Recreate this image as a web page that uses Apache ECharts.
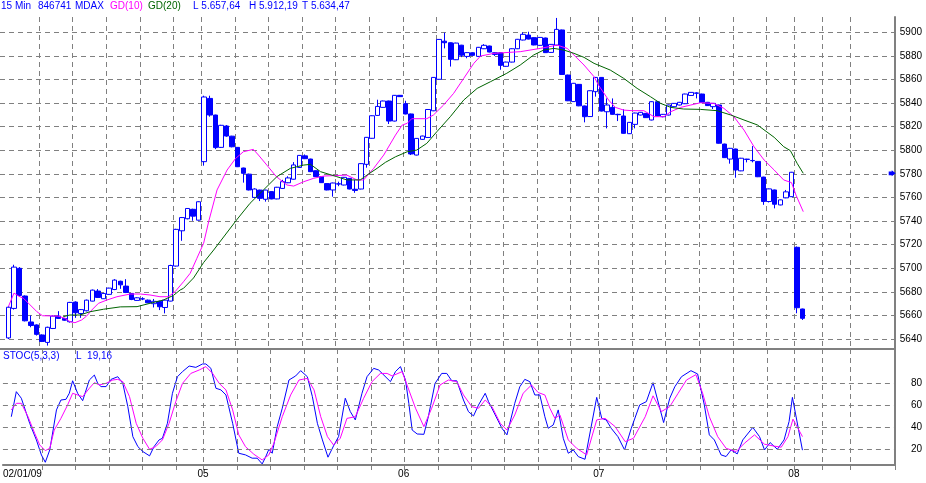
<!DOCTYPE html>
<html><head><meta charset="utf-8">
<script src="https://cdn.jsdelivr.net/npm/echarts@6/dist/echarts.min.js"></script>
<style>html,body{margin:0;padding:0;background:#fff}#c{width:926px;height:483px}</style>
</head><body><div id="c"></div>
<script>
// ---- candle data (15 min bars, bar 1..143) ----
const openV = [
5641,5666,5700,5676.5,5654.5,5652,5643.5,5637.2,5649,5659.5,
5657.5,5654.7,5671.4,5661.7,5664,5672.2,5680.7,5674.2,5677.9,5682,
5689,5684.9,5678.7,5672.8,5674,5673,5670,5672,5666.8,5672.2,
5701.9,5731.8,5742,5750,5740.8,5790.4,5844,5829.9,5802.5,5820.6,
5812,5802.5,5785,5779.8,5760.1,5766.3,5758.5,5765,5758.8,5767.7,
5772.5,5775.5,5785.5,5795.3,5792.6,5782.7,5777.7,5771.8,5766.4,5771.6,
5770.6,5776.2,5767,5767.2,5788.1,5810.2,5829.6,5836.4,5841.8,5824.8,
5846.6,5839.5,5830.8,5796,5809.3,5810.9,5833.5,5860.2,5892.5,5891.2,
5876.8,5889.1,5879.6,5882.7,5879.6,5886.1,5888.4,5882.7,5882.7,5871.2,
5874.8,5886.1,5893.5,5897.7,5895.5,5889,5895.2,5883,5889.2,5902,
5863.8,5841.3,5855.9,5837.6,5828.6,5849.7,5861.8,5832.7,5836.4,5830.5,
5829.1,5814.1,5822,5829.9,5831.3,5825.7,5841.2,5828.5,5829.9,5837,
5838.4,5839.5,5846.5,5848.6,5847.7,5840.7,5837,5838.4,5805.3,5792.6,
5801.1,5782.6,5792.5,5791.4,5790.6,5777.3,5756.6,5766.4,5753.7,5759.7,
5760.7,5717.8,5665.5];
const closeV = [
5667,5701,5677,5655.5,5651.5,5644,5638,5650,5659.5,5657.5,
5656,5671.1,5662.3,5665,5673,5681.5,5675.3,5678.7,5683.2,5690,
5686,5679.5,5673.6,5675,5674.2,5670.8,5672,5667.4,5673,5702.4,
5733,5743,5750.7,5744.2,5756.4,5845.2,5829.9,5802.3,5821.2,5812.1,
5803,5786.1,5780.5,5766.4,5767.2,5759.3,5766.3,5758.8,5768.7,5773.4,
5776.6,5787.6,5795.7,5792.9,5781.9,5777.7,5772.6,5766.4,5772.3,5771.4,
5777.1,5767.2,5766,5788.7,5811,5829.3,5837.2,5841.8,5824.8,5846.6,
5845.5,5830.8,5796.9,5810.1,5812.1,5834.6,5861.8,5894,5891.2,5877.1,
5890.9,5880.6,5882.8,5880.5,5887.3,5889,5883.3,5881.3,5872,5874.8,
5886.1,5894.1,5898.3,5894.3,5889.3,5895.7,5882.8,5889.8,5902.5,5864.3,
5842,5856.8,5837.7,5828.5,5850.5,5861.8,5833.3,5838.4,5830.5,5830.2,
5814.4,5823.7,5831.6,5832.2,5827.7,5841.2,5829.1,5830.5,5838.4,5839.8,
5840.7,5847.7,5849.1,5848.4,5840.7,5837.9,5839.8,5806,5793.8,5801.7,
5783.3,5793.3,5792.3,5791.2,5777.6,5756.6,5767.3,5754.3,5758,5764.8,
5781.4,5666.6,5657.6];
const lowV = [
5640,5665,5676,5655,5650,5643,5637.5,5634.5,5648.5,5657,
5655.5,5654,5658,5658,5663.5,5672,5675,5674,5677.5,5681.5,
5682.6,5679,5673,5672.5,5673,5670.5,5666.8,5664.6,5661.8,5672,
5701.5,5723.3,5741.5,5740.3,5740.5,5787,5828.5,5801,5802,5811.5,
5802.5,5785.8,5772.6,5766,5759.8,5757,5756.5,5758.5,5758.5,5767.4,
5772.2,5775.2,5785.2,5792.6,5781.6,5777.4,5772.3,5766.1,5760.7,5769.6,
5770.3,5766.9,5764,5766.9,5785.3,5809.9,5829.3,5836.1,5822.3,5824.5,
5845.2,5830.5,5796,5795.7,5809,5810.6,5833.2,5859.9,5886.4,5871,
5876.5,5879,5878,5880.2,5879.3,5885.8,5883,5880,5868.3,5870.9,
5874.5,5885.8,5893.2,5894,5889,5888.7,5882.5,5882.7,5888.9,5864,
5841.7,5841,5837.4,5823.7,5828.3,5845.5,5833,5818.6,5830.2,5824.8,
5814.1,5813.8,5818.6,5829.6,5827.4,5825.4,5828.8,5828,5829.6,5836.7,
5838.1,5839.2,5846.2,5844,5840.4,5837.6,5835,5805.7,5793.5,5788.7,
5776.8,5782.3,5789.8,5789.8,5777.3,5753.8,5755.8,5750.8,5753.4,5759.4,
5760.4,5661.9,5656.2];
const highV = [
5668,5703,5701,5677,5660,5652.5,5644,5650.5,5660,5663.7,
5658,5671.5,5672,5665.5,5673.5,5682,5682.4,5679,5683.5,5690.8,
5689.5,5690.8,5679,5675.5,5675.5,5673.5,5674,5672.5,5673.5,5703,
5733.5,5743.5,5751,5750.5,5756.8,5846.3,5846.3,5830.2,5821.6,5821.4,
5812.3,5802.8,5785.3,5780.2,5767.8,5766.6,5766.6,5765.3,5769,5775,
5778,5790,5796,5796.5,5792.9,5783,5778,5772.1,5772.6,5773.4,
5777.4,5776.5,5775,5789,5811.3,5829.6,5842.9,5842.1,5842.1,5846.9,
5846.9,5842,5831.1,5810.4,5812.4,5834.9,5862.1,5894.3,5899.7,5891.5,
5891.2,5889.4,5883.1,5883,5887.6,5890,5888.7,5883,5883,5875.1,
5886.4,5894.4,5900,5900.5,5895.8,5896,5895.5,5890.1,5912.2,5902.3,
5864.1,5857.1,5856.2,5837.9,5850.8,5862.1,5862.1,5844,5844,5831,
5834.8,5824,5831.9,5832.5,5831.6,5841.5,5841.5,5830.8,5838.7,5840.1,
5841,5848,5849.4,5849.2,5848,5841,5840.1,5838.7,5805.6,5802,
5801.4,5793.6,5792.8,5803.6,5790.9,5777.6,5767.6,5766.7,5758.3,5766.4,
5781.7,5718.5,5665.8];

// ---- moving averages [bar position, value] ----
const gd10 = [[1,5667.5],[2,5679],[2.8,5676.5],[3.7,5674.6],[4.9,5668.9],[6.1,5663.2],[7.1,5659.8],[9.9,5659.5],[11.1,5657.6],[12,5654.8],[12.9,5653.9],[14.1,5656.2],[15,5659.6],[15.9,5664.6],[17.1,5670.3],[18.6,5673.1],[20.4,5675.9],[22.8,5678.2],[24.6,5678.2],[26.3,5677.4],[28.1,5675.9],[29.6,5675.9],[30.8,5680.2],[32.3,5688.6],[33.5,5695.8],[34.7,5708.5],[35.9,5721.2],[36.8,5739.5],[38.3,5766.4],[40.1,5783.3],[41.6,5793],[43,5798.8],[44.8,5800.8],[45.7,5796],[47.2,5787.5],[48.9,5777.7],[50.8,5770.6],[52,5769.7],[53.8,5773.4],[55.6,5776.3],[57.4,5778.2],[61.5,5779],[63.3,5774.9],[64.5,5774.9],[66.3,5784.7],[68.1,5796],[70.2,5812.9],[71.4,5821.4],[72.3,5822.9],[73.1,5826.8],[75.8,5826.8],[77,5830],[78.8,5838.4],[80.6,5848.3],[82.4,5861],[84.2,5873.7],[85.4,5879.9],[87.8,5882.2],[92.5,5883.6],[96.1,5886.4],[99.1,5889.2],[100.9,5886.4],[102.1,5880.8],[103.9,5872.3],[105.7,5862.4],[106.5,5855.2],[108.3,5842.6],[109.5,5836.4],[111,5834.1],[112.5,5833.6],[114.6,5833.6],[116.4,5828.5],[118.2,5828.5],[119.4,5832.7],[121.2,5836.4],[123,5838.4],[124.7,5840.3],[127.1,5839.8],[128.9,5835.6],[130.7,5828.5],[132.5,5817.2],[134.3,5803],[136.1,5791.8],[137.9,5783.3],[139.6,5774.9],[141,5772.6],[141.8,5762.1],[143.1,5748]];
const gd20 = [[10.8,5659],[12,5660.4],[13.8,5660.4],[15.6,5663.2],[18,5665.3],[21,5667.3],[24,5667.5],[26.3,5670.3],[28.7,5673.1],[30.5,5677],[31.7,5681.6],[32.3,5683],[34.1,5691.8],[35.9,5704.9],[37.7,5715.5],[41.8,5741],[44.2,5755.1],[46.6,5766.4],[49,5777.7],[51.4,5784.7],[53.8,5787.5],[55,5788.1],[56.8,5781.9],[59.7,5777.7],[61.5,5774.9],[63.9,5774.9],[65.1,5779],[66.9,5784.7],[68.4,5789.8],[70.2,5794.5],[72.3,5798.8],[74,5800.2],[75.8,5805.9],[77.6,5815.8],[80,5828.5],[82.4,5842.6],[84.8,5852.5],[87.2,5858.2],[90.1,5865.3],[92.5,5872.3],[94.9,5880.8],[96.7,5885],[98.5,5886.4],[100.3,5885],[102.1,5882.2],[103.9,5878.8],[105.7,5873.7],[108.6,5868],[111,5861],[113.4,5852.5],[115.8,5845.4],[117.6,5839.8],[119.4,5836.4],[121.7,5835],[124.7,5834.7],[127.7,5833.6],[130.1,5830],[132.5,5825.7],[134.9,5821.5],[137.9,5811],[139.6,5803.1],[140.8,5799.7],[142,5789],[143.1,5780.5]];

// ---- stochastic (5,3,3) [bar position, value] ----
const stochK = [[1,49.6],[1.9,72.4],[2.8,66.4],[4.3,43.6],[5.5,28.5],[6.4,14.8],[7.1,8.2],[7.9,19.4],[8.5,37.5],[9.1,55.8],[9.9,64.8],[10.8,65.4],[11.4,70.9],[12,82.3],[12.9,70.9],[13.8,64.2],[15,83],[15.9,87.5],[16.5,79.9],[17.1,77],[18,77],[18.9,83.6],[20.1,86],[21,79.9],[21.9,58.8],[22.8,31.5],[23.7,22.4],[24.6,17.9],[25.8,14],[26.6,22.4],[27.5,28.5],[28.1,30],[29,43.6],[29.9,70.9],[30.8,86],[31.7,90.6],[32.9,95.7],[34.1,94.5],[35.3,97.6],[35.9,97.6],[36.8,93.6],[37.7,75.5],[38.6,74],[39.5,69.4],[40.7,43.6],[41.8,16.4],[43,14.9],[44.2,11.9],[45.1,11.9],[46,6.7],[46.6,12.8],[47.2,20],[47.8,16.4],[48.7,40.6],[49.6,57.3],[50.8,83],[52,86.7],[52.9,91.5],[54.1,86],[55,67.9],[55.9,43.6],[56.8,28.5],[57.8,12.8],[58.8,23.1],[59.7,31.5],[60.9,66.4],[61.8,54.3],[62.7,46.7],[63.9,70.9],[64.8,86],[66,93.6],[66.9,92.1],[69,81.5],[69.9,90.6],[70.8,95.2],[71.7,83],[72.3,61.8],[72.9,37.5],[73.8,33.9],[75,33.6],[75.8,49.6],[77,79.9],[78.2,89],[79.1,89],[80,82.3],[80.9,82.3],[82.1,64.8],[83,54.2],[83.9,50.3],[84.8,60.3],[86,70.9],[86.6,63.3],[87.8,51.2],[89,39.1],[89.9,33.1],[91.3,61.8],[92.2,76.8],[93.1,83.6],[94,81.5],[94.9,69.4],[95.8,69.4],[96.7,49.6],[97.3,39.1],[98.2,42.1],[99.1,55.8],[100,30],[100.9,16.4],[101.8,19.4],[102.7,13.3],[103.9,10.9],[106,67.2],[106.9,48.1],[107.7,46.7],[108.6,39.1],[109.8,31.5],[111,19.4],[112.2,39.1],[113.7,60.3],[114.9,63.3],[116.1,80.6],[118,44.3],[119.1,66.4],[120,76.8],[121.2,86],[122.9,91.5],[124.1,88.5],[125.3,60.3],[126.2,33.1],[127.1,28.5],[128.3,14.9],[129.2,13.4],[130.1,19.4],[131.2,15.8],[132.2,28.5],[134,39.9],[135.2,31.5],[136.1,19.4],[137.1,26.1],[138.4,20],[139.6,28.5],[140.5,45.2],[141.1,67.2],[142.9,19.2]];
const stochD = [[1,55.8],[1.9,61.8],[2.8,61.8],[4,49.6],[5.2,34.5],[6.1,23.9],[7.1,18.8],[7.9,20.9],[8.7,37.5],[9.9,48.1],[11.1,60.3],[12,70.9],[12.9,69.4],[13.8,67.9],[15,75.5],[15.9,80.6],[16.8,78.5],[18,80],[19.2,83],[20.1,83.6],[21,81.5],[22.2,67.9],[23.4,43.6],[24.6,30],[25.8,20],[26.9,22.4],[28.1,28.5],[29.3,43.6],[30.5,63.3],[31.7,79.9],[33.2,89],[34.7,92.1],[35.9,95.2],[37.1,89],[38.3,79.9],[39.5,74],[40.7,55.8],[41.8,33.1],[43,22.4],[44.5,15.5],[46,10.3],[47.2,14.9],[48.1,25.5],[49.6,49.6],[51.1,69.4],[52.6,83],[54.1,84.5],[55.3,74],[56.5,49.6],[57.7,31.5],[58.8,23.9],[60,30],[61.2,48.1],[62.7,49.6],[64.2,66.4],[65.7,81.5],[67.2,89],[68.4,89],[69.3,86.7],[71.1,90.6],[72.3,74],[73.5,57.3],[75,40.6],[76.4,57.3],[77.9,78.5],[79.4,83],[80.9,81.5],[82.1,69.4],[83.6,58.8],[84.8,57.3],[86,64.8],[87.2,58.8],[88.7,43.6],[89.9,37.5],[91.3,51.2],[92.8,70.9],[94.3,78.5],[95.5,71.6],[96.7,69.4],[97.6,57.3],[98.5,48.1],[99.4,51.2],[100.9,28.5],[102.4,20.9],[104.2,14.9],[106,46.7],[107.5,48.1],[109.3,40.6],[111.1,27],[112.6,30],[114.7,49.6],[116.1,68.6],[117.6,54.3],[119.1,58.8],[120.6,70.9],[122.1,83],[123.8,87.9],[125,70.9],[126.2,49.6],[127.7,31.5],[129.2,20.9],[131,17.9],[132.5,25.5],[134.3,33.1],[136.1,24.6],[137.9,22.8],[139.1,21.9],[140.3,31.5],[141.2,47.4],[142.9,31.5]];

// ---- axis / label settings ----
const dayLabels = ['02/01/09', '05', '06', '07', '08'];
const dayLabelBars = [3, 36, 72, 107, 142];
const gridLineBars = [7,13,19,25,31,36,42,48,54,60,66,72,78,84,90,96,102,107,113,119,125,131,137,142,147,152];
const stochLevels = [20, 40, 60, 80];
const lastMarker = [159, 5780.5];
const headerTexts = ['15 Min', '846741', 'MDAX', 'GD(10)', 'GD(20)', 'L 5.657,64', 'H 5.912,19', 'T 5.634,47'];
const headerColors = ['#0000ff','#0000ff','#0000ff','#ff00ff','#006400','#0000ff','#0000ff','#0000ff'];
const headerX = [1, 38, 75, 110, 148, 193, 249, 302];

const N_CAT = 160;
const cats = Array.from({length: N_CAT}, (_, k) => String(k));
const candleData = cats.map((_, k) => {
  const i = k - 1;
  return (i >= 0 && i < openV.length) ? [openV[i], closeV[i], lowV[i], highV[i]] : '-';
});
const gridSet = new Set(gridLineBars);
const labelMap = {};
dayLabelBars.forEach((b, j) => labelMap[b] = dayLabels[j]);

const GRAY = '#808080';
const FONT = 'Liberation Sans, Arial, sans-serif';
const dashed = {color: GRAY, type: [5, 4], width: 1};

const chart = echarts.init(document.getElementById('c'), null, {renderer: 'canvas'});
chart.setOption({
  animation: false,
  backgroundColor: '#ffffff',
  textStyle: {fontFamily: FONT},
  grid: [
    {left: -1, right: 31, top: 17, bottom: 134},
    {left: -1, right: 31, top: 349, bottom: 18}
  ],
  xAxis: [
    {type: 'category', gridIndex: 0, data: cats, boundaryGap: true,
     axisLine: {show: true, onZero: false, lineStyle: {color: GRAY, width: 2}},
     axisTick: {show: false}, axisLabel: {show: false},
     splitLine: {show: true, interval: (i) => gridSet.has(i), lineStyle: dashed}},
    {type: 'category', gridIndex: 1, data: cats, boundaryGap: true,
     axisLine: {show: true, onZero: false, lineStyle: {color: GRAY, width: 2}},
     axisTick: {show: true, interval: (i) => gridSet.has(i), length: 5, lineStyle: {color: GRAY}},
     axisLabel: {show: true, interval: (i) => labelMap[i] !== undefined,
       formatter: (v, i) => { const k = +v; const s = labelMap[k]; if (s === undefined) return ''; return k === dayLabelBars[0] ? '{f|' + s + '}' : '{d|' + s + '}'; },
       margin: 4, color: '#000', fontSize: 10,
       rich: {f: {fontSize: 10, color: '#000', fontFamily: FONT}, d: {fontSize: 10, color: '#000', fontFamily: FONT, padding: [0, 7, 0, 0]}}},
     splitLine: {show: true, interval: (i) => gridSet.has(i), lineStyle: dashed}},
    {type: 'value', gridIndex: 0, min: -0.5, max: N_CAT - 0.5, show: false},
    {type: 'value', gridIndex: 1, min: -0.5, max: N_CAT - 0.5, show: false}
  ],
  yAxis: [
    {type: 'value', gridIndex: 0, position: 'right', min: 5631.6, max: 5913, splitNumber: 14, scale: true,
     axisLine: {show: true, onZero: false, lineStyle: {color: GRAY, width: 2}},
     axisTick: {show: false},
     axisLabel: {formatter: (v) => (Math.abs(v % 20) < 1e-6 && v >= 5640 && v <= 5900) ? String(Math.round(v)) : '',
       align: 'right', margin: 27, color: '#000', fontSize: 10, showMinLabel: false, showMaxLabel: false},
     splitLine: {show: true, showMinLine: false, showMaxLine: false, lineStyle: dashed}},
    {type: 'value', gridIndex: 1, position: 'right', min: 5.7, max: 111.2, splitNumber: 5,
     axisLine: {show: true, onZero: false, lineStyle: {color: GRAY, width: 2}},
     axisTick: {show: false},
     axisLabel: {formatter: (v) => stochLevels.includes(Math.round(v * 1000) / 1000) ? String(v) : '',
       align: 'right', margin: 27, color: '#000', fontSize: 10, showMinLabel: false, showMaxLabel: false},
     splitLine: {show: false}}
  ],
  series: [
    {name: 'MDAX', type: 'candlestick', xAxisIndex: 0, yAxisIndex: 0, data: candleData, barWidth: 5,
     itemStyle: {color: '#ffffff', color0: '#0000ff', borderColor: '#0000ff', borderColor0: '#0000ff', borderWidth: 1}},
    {name: 'GD(10)', type: 'line', xAxisIndex: 2, yAxisIndex: 0, data: gd10, showSymbol: false, symbol: 'none',
     lineStyle: {color: '#ff00ff', width: 1}},
    {name: 'GD(20)', type: 'line', xAxisIndex: 2, yAxisIndex: 0, data: gd20, showSymbol: false, symbol: 'none',
     lineStyle: {color: '#006400', width: 1},
     markPoint: {silent: true, symbol: 'path://M0,1L3,1L3,0L7,2.5L3,5L3,4L0,4Z', symbolSize: [7, 6],
       itemStyle: {color: '#0000ff'}, label: {show: false}, data: [{coord: lastMarker}]}},
    {name: '%K', type: 'line', xAxisIndex: 3, yAxisIndex: 1, data: stochK, showSymbol: false, symbol: 'none',
     lineStyle: {color: '#0000ff', width: 1},
     markLine: {silent: true, symbol: ['none', 'none'], label: {show: false}, lineStyle: dashed,
       data: stochLevels.map(v => ({yAxis: v}))}},
    {name: '%D', type: 'line', xAxisIndex: 3, yAxisIndex: 1, data: stochD, showSymbol: false, symbol: 'none',
     lineStyle: {color: '#ff00ff', width: 1}}
  ],
  graphic: headerTexts.map((t, j) => ({
    type: 'text', left: headerX[j], top: 1,
    style: {text: t, fill: headerColors[j], font: '10px ' + FONT}
  })).concat([
    {type: 'text', left: 3, top: 351, style: {text: 'STOC(5,3,3)', fill: '#0000ff', font: '10px ' + FONT}},
    {type: 'text', left: 76, top: 351, style: {text: 'L  19,16', fill: '#0000ff', font: '10px ' + FONT}}
  ])
});
</script>
</body></html>
